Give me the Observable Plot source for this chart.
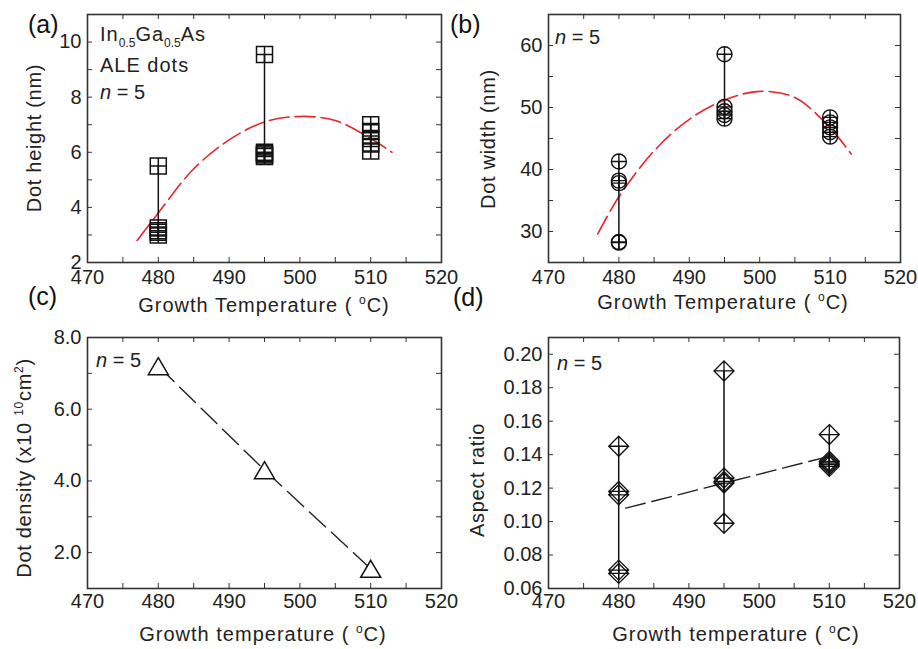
<!DOCTYPE html>
<html>
<head>
<meta charset="utf-8">
<script src="https://cdn.jsdelivr.net/npm/d3@7"></script>
<script src="https://cdn.jsdelivr.net/npm/@observablehq/plot@0.6"></script>
<style>
  html, body { margin: 0; padding: 0; background: #fff; }
  #wrap { position: relative; width: 918px; height: 649px; overflow: hidden; background: #fff; }
  #wrap > svg { position: absolute; }
  text { font-family: "Liberation Sans", Arial, sans-serif; }
</style>
</head>
<body>
<div id="wrap"></div>
<script>
// ---------------- data ----------------
const temps = [480, 495, 510];
// (a) dot height (nm), five dots per temperature
const heightNm = [
  [5.5, 3.25, 3.15, 3.1, 3.0],
  [9.55, 6.0, 5.95, 5.9, 5.85],
  [7.0, 6.75, 6.5, 6.3, 6.05]
];
// (a) red dashed fit
const fitHeightX = [477, 480, 485, 490, 495, 500, 505, 510, 513];
const fitHeightY = [2.8, 3.8, 5.4, 6.45, 7.1, 7.3, 7.15, 6.5, 6.0];
// (b) dot width (nm)
const widthNm = [
  [41.3, 38.2, 37.8, 28.3, 28.2],
  [58.6, 50.1, 49.4, 48.8, 48.2],
  [48.4, 47.6, 46.8, 46.0, 45.3]
];
const fitWidthX = [477, 480, 485, 490, 495, 500, 505, 510, 513];
const fitWidthY = [29.6, 35.6, 43.0, 48.1, 51.2, 52.6, 51.6, 46.7, 42.5];
// (c) dot density (x10^10 cm^-2)
const density = [7.2, 4.3, 1.55];
// (d) aspect ratio
const aspect = [
  [0.145, 0.118, 0.116, 0.071, 0.069],
  [0.190, 0.126, 0.124, 0.123, 0.099],
  [0.152, 0.136, 0.135, 0.134, 0.133]
];
const fitAspectX = [481, 510];
const fitAspectY = [0.108, 0.139];

// tick values
const xTickLabels = [470, 480, 490, 500, 510, 520];
const xMinor = [470, 475, 480, 485, 490, 495, 500, 505, 510, 515, 520];
const yLabelsA = [2, 4, 6, 8, 10];
const yMinorA = [3, 4, 5, 6, 7, 8, 9, 10];
const yLabelsB = [30, 40, 50, 60];
const yMinorB = [30, 35, 40, 45, 50, 55, 60];
const yLabelsC = [2, 4, 6, 8];
const yMinorC = [2, 3, 4, 5, 6, 7];
const yLabelsD = [0.06, 0.08, 0.10, 0.12, 0.14, 0.16, 0.18, 0.20];
const yMinorD = [0.08, 0.10, 0.12, 0.14, 0.16, 0.18, 0.20];

// ---------------- symbols ----------------
function withPlus(ctx, h) { ctx.moveTo(0, -h); ctx.lineTo(0, h); ctx.moveTo(-h, 0); ctx.lineTo(h, 0); }
const squarePlus = { draw(ctx, size) { const h = Math.sqrt(size / Math.PI);
  ctx.moveTo(-h, -h); ctx.lineTo(h, -h); ctx.lineTo(h, h); ctx.lineTo(-h, h); ctx.closePath(); withPlus(ctx, h); } };
const circlePlus = { draw(ctx, size) { const h = Math.sqrt(size / Math.PI);
  ctx.moveTo(h, 0); ctx.arc(0, 0, h, 0, 2 * Math.PI); withPlus(ctx, h); } };
const diamondPlus = { draw(ctx, size) { const h = Math.sqrt(size / Math.PI);
  ctx.moveTo(0, -h); ctx.lineTo(h, 0); ctx.lineTo(0, h); ctx.lineTo(-h, 0); ctx.closePath(); withPlus(ctx, h); } };
const triangleUp = { draw(ctx, size) { const h = Math.sqrt(size / Math.PI);
  ctx.moveTo(0, -0.85 * h); ctx.lineTo(h, 0.85 * h); ctx.lineTo(-h, 0.85 * h); ctx.closePath(); } };

const RED = "#e8262d";
const INK = "#111";
const flat = (vals) => temps.flatMap((t, i) => vals[i].map(v => ({t, v})));

function panel(o) {
  const pw = o.width - o.mL - o.mR, ph = o.height - o.mT - o.mB;
  const tick = 5;
  const svg = Plot.plot({
    width: o.width, height: o.height,
    marginLeft: o.mL, marginRight: o.mR, marginTop: o.mT, marginBottom: o.mB,
    x: {domain: [470, 520]},
    y: {domain: o.yDomain},
    style: {fontFamily: '"Liberation Sans", Arial, sans-serif', fontSize: "20px", color: "#222", background: "transparent", overflow: "visible"},
    marks: [
      Plot.axisX(xTickLabels, {tickSize: 0, tickPadding: o.xPad, label: null, fontSize: 20}),
      Plot.axisY(o.yLabels, {tickSize: 0, tickPadding: 6, label: null, fontSize: 20, tickFormat: o.yFormat}),
      Plot.tickX(xMinor, {x: d => d, insetTop: ph - tick, stroke: "#333"}),
      Plot.tickX(xMinor, {x: d => d, insetBottom: ph - tick, stroke: "#333"}),
      Plot.tickY(o.yMinor, {y: d => d, insetRight: pw - tick, stroke: "#333"}),
      Plot.tickY(o.yMinor, {y: d => d, insetLeft: pw - tick, stroke: "#333"}),
      ...o.marks,
      Plot.frame({stroke: "#333", strokeWidth: 1.6})
    ]
  });
  svg.style.left = o.left + "px";
  svg.style.top = o.top + "px";
  document.getElementById("wrap").appendChild(svg);
}

function rangeRules(vals) {
  return Plot.ruleX(temps, {x: d => d, y1: (d, i) => d3.min(vals[i]), y2: (d, i) => d3.max(vals[i]), stroke: INK, strokeWidth: 1.5});
}

// (a)
panel({
  left: 0, top: 0, width: 459, height: 320, mL: 87, mR: 18, mT: 14, mB: 58, xPad: 7,
  yDomain: [2, 11], yLabels: yLabelsA, yMinor: yMinorA, yFormat: d3.format("d"),
  marks: [
    Plot.line(fitHeightX.map((x, i) => ({x, y: fitHeightY[i]})), {x: "x", y: "y", stroke: RED, strokeWidth: 1.6, strokeDasharray: "20,6", curve: "catmull-rom"}),
    rangeRules(heightNm),
    Plot.dot(flat(heightNm), {x: "t", y: "v", symbol: squarePlus, r: 8, fill: "none", stroke: INK, strokeWidth: 1.5})
  ]
});
// (b)
panel({
  left: 459, top: 0, width: 459, height: 320, mL: 89, mR: 18, mT: 14, mB: 58, xPad: 7,
  yDomain: [25, 65], yLabels: yLabelsB, yMinor: yMinorB, yFormat: d3.format("d"),
  marks: [
    Plot.line(fitWidthX.map((x, i) => ({x, y: fitWidthY[i]})), {x: "x", y: "y", stroke: RED, strokeWidth: 1.6, strokeDasharray: "20,6", curve: "catmull-rom"}),
    rangeRules(widthNm),
    Plot.dot(flat(widthNm), {x: "t", y: "v", symbol: circlePlus, r: 7.5, fill: "none", stroke: INK, strokeWidth: 1.4})
  ]
});
// (c)
panel({
  left: 0, top: 320, width: 459, height: 329, mL: 87, mR: 18, mT: 17, mB: 61, xPad: 5,
  yDomain: [1, 8], yLabels: yLabelsC, yMinor: yMinorC, yFormat: d3.format(".1f"),
  marks: [
    Plot.line(temps.map((t, i) => ({t, v: density[i]})), {x: "t", y: "v", stroke: "#222", strokeWidth: 1.4, strokeDasharray: "22,8"}),
    Plot.dot(temps.map((t, i) => ({t, v: density[i]})), {x: "t", y: "v", symbol: triangleUp, r: 10, fill: "white", stroke: INK, strokeWidth: 1.5})
  ]
});
// (d)
panel({
  left: 459, top: 320, width: 459, height: 329, mL: 89, mR: 19, mT: 17, mB: 61, xPad: 5,
  yDomain: [0.06, 0.21], yLabels: yLabelsD, yMinor: yMinorD, yFormat: d3.format(".2f"),
  marks: [
    Plot.line(fitAspectX.map((x, i) => ({x, y: fitAspectY[i]})), {x: "x", y: "y", stroke: "#222", strokeWidth: 1.4, strokeDasharray: "20,7"}),
    rangeRules(aspect),
    Plot.dot(flat(aspect), {x: "t", y: "v", symbol: diamondPlus, r: 10, fill: "none", stroke: INK, strokeWidth: 1.3})
  ]
});

// ---------------- annotations ----------------
const ov = d3.select("#wrap").append("svg")
  .attr("width", 918).attr("height", 649)
  .style("left", "0px").style("top", "0px").style("pointer-events", "none");
const SANS = '"Liberation Sans", Arial, sans-serif';
const SERIF = '"Liberation Serif", "Times New Roman", serif';

[["(a)", 28, 33], ["(b)", 450, 33], ["(c)", 28, 305], ["(d)", 453, 306]].forEach(([t, x, y]) =>
  ov.append("text").attr("x", x).attr("y", y).attr("font-family", SERIF).attr("font-size", 25).attr("fill", "#111").text(t));

// In0.5Ga0.5As
const comp = ov.append("text").attr("x", 100).attr("y", 41).attr("font-family", SANS).attr("font-size", 20)
  .attr("letter-spacing", 1).attr("fill", "#222");
comp.append("tspan").text("In");
comp.append("tspan").attr("dy", 6).attr("font-size", 12).attr("letter-spacing", 0).text("0.5");
comp.append("tspan").attr("dy", -6).text("Ga");
comp.append("tspan").attr("dy", 6).attr("font-size", 12).attr("letter-spacing", 0).text("0.5");
comp.append("tspan").attr("dy", -6).text("As");
ov.append("text").attr("x", 100).attr("y", 72).attr("font-family", SANS).attr("font-size", 20)
  .attr("letter-spacing", 1).attr("fill", "#222").text("ALE dots");

function nEq(x, y) {
  const t = ov.append("text").attr("x", x).attr("y", y).attr("font-family", SANS).attr("font-size", 20).attr("fill", "#222");
  t.append("tspan").attr("font-style", "italic").text("n");
  t.append("tspan").text(" = 5");
}
nEq(100, 99); nEq(555, 44); nEq(96, 367); nEq(557, 370);

function xTitle(label, cx, y) {
  const t = ov.append("text").attr("x", cx).attr("y", y).attr("text-anchor", "middle")
    .attr("font-family", SANS).attr("font-size", 20).attr("letter-spacing", 1).attr("fill", "#222");
  t.append("tspan").text(label + " ( ");
  t.append("tspan").attr("dy", -8).attr("font-size", 12).text("o");
  t.append("tspan").attr("dy", 8).text("C)");
}
xTitle("Growth Temperature", 264, 312);
xTitle("Growth Temperature", 723, 309);
xTitle("Growth temperature", 263, 641);
xTitle("Growth temperature", 736, 641);

function yTitle(parts, x, cy) {
  const t = ov.append("text").attr("transform", `translate(${x},${cy}) rotate(-90)`).attr("text-anchor", "middle")
    .attr("font-family", SANS).attr("font-size", 20).attr("letter-spacing", 0.7).attr("fill", "#222");
  let shift = 0;
  parts.forEach(([s, sup]) => {
    const want = sup ? -8 : 0;
    const sp = t.append("tspan").attr("dy", want - shift).text(s);
    if (sup) sp.attr("font-size", 12);
    shift = want;
  });
}
yTitle([["Dot height (nm)"]], 41, 138);
yTitle([["Dot width (nm)"]], 495, 139);
yTitle([["Dot density (x10 "], ["10", true], ["cm"], ["2", true], [")"]], 31, 468);
yTitle([["Aspect ratio"]], 484, 480);
</script>
</body>
</html>
